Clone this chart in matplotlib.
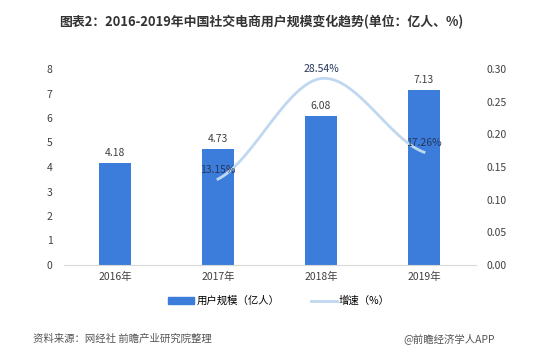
import numpy as np
import matplotlib.pyplot as plt
from matplotlib.lines import Line2D
from matplotlib.patches import Patch

plt.rcParams['font.family'] = ['Noto Sans CJK SC', 'DejaVu Sans']

# data
years = ["2016年", "2017年", "2018年", "2019年"]
users = [4.18, 4.73, 6.08, 7.13]
growth_years = [1, 2, 3]          # index into years
growth = [0.1315, 0.2854, 0.1726]
growth_labels = ["13.15%", "28.54%", "17.26%"]

bar_color = "#3c7ddb"
line_color = "#c0d8ef"
text_color = "#404040"

fig = plt.figure(figsize=(5.58, 3.6), dpi=100)
ax = fig.add_axes([63.5 / 558, 95 / 360, 412 / 558, 196 / 360])
ax2 = ax.twinx()

x = np.arange(len(years))
ax.bar(x, users, width=0.32, color=bar_color, zorder=2)
for xi, v in zip(x, users):
    ax.text(xi, v + 0.2, f"{v:.2f}", ha="center", va="bottom", fontsize=7.5, color=text_color)

ax.set_xlim(-0.5, 3.5)
ax.set_ylim(0, 8)
ax.set_yticks(range(0, 9))
ax.set_xticks(x)
ax.set_xticklabels(years)
ax.tick_params(length=0, labelsize=7.5, colors=text_color)
ax.tick_params(axis="y", pad=8)
ax.tick_params(axis="x", pad=5)
for s in ["top", "right", "left"]:
    ax.spines[s].set_visible(False)
ax.spines["bottom"].set_color("#d9d9d9")

# smoothed growth line (Catmull-Rom through the points)
gx = np.array(growth_years, dtype=float)
gy = np.array(growth)
px = np.concatenate([[2 * gx[0] - gx[1]], gx, [2 * gx[-1] - gx[-2]]])
py = np.concatenate([[gy[0]], gy, [gy[-1]]])
sx, sy = [], []
for i in range(1, len(px) - 2):
    t = np.linspace(0, 1, 30)
    p0, p1, p2, p3 = [np.array([px[j], py[j]]) for j in range(i - 1, i + 3)]
    m1 = (p2 - p0) / 2
    m2 = (p3 - p1) / 2
    h00 = 2 * t**3 - 3 * t**2 + 1
    h10 = t**3 - 2 * t**2 + t
    h01 = -2 * t**3 + 3 * t**2
    h11 = t**3 - t**2
    pts = np.outer(h00, p1) + np.outer(h10, m1) + np.outer(h01, p2) + np.outer(h11, m2)
    sx.extend(pts[:, 0]); sy.extend(pts[:, 1])
ax2.plot(sx, sy, color=line_color, lw=2, zorder=3)

for xi, v, lab in zip(growth_years, growth, growth_labels):
    ax2.text(xi, v + 0.014, lab, ha="center", va="center", fontsize=7.5, color="#26375a", zorder=4)

ax2.set_ylim(0, 0.30)
ax2.set_yticks(np.arange(0, 0.31, 0.05))
ax2.set_yticklabels([f"{v:.2f}" for v in np.arange(0, 0.31, 0.05)])
ax2.tick_params(length=0, labelsize=7.5, colors=text_color, pad=8)
for s in ["top", "right", "left", "bottom"]:
    ax2.spines[s].set_visible(False)

handles = [Patch(color=bar_color), Line2D([0], [0], color=line_color, lw=2)]
fig.legend(handles, ["用户规模（亿人）", "增速（%）"], loc="center", bbox_to_anchor=(0.5, 1 - 301 / 360),
           ncol=2, frameon=False, fontsize=7.5, handlelength=2.5, handleheight=0.6,
           columnspacing=3, handletextpad=0.2)

fig.text(261 / 558, 1 - 22 / 360, "图表2：2016-2019年中国社交电商用户规模变化趋势(单位：亿人、%)",
         ha="center", va="center", fontsize=9.3, fontweight="bold", color="#333333")
fig.text(33 / 558, 1 - 339 / 360, "资料来源：网经社 前瞻产业研究院整理", ha="left", va="center",
         fontsize=7.5, color="#555555")
fig.text(495 / 558, 1 - 339 / 360, "@前瞻经济学人APP", ha="right", va="center",
         fontsize=7.5, color="#555555")

fig.savefig("out.png", dpi=100)
